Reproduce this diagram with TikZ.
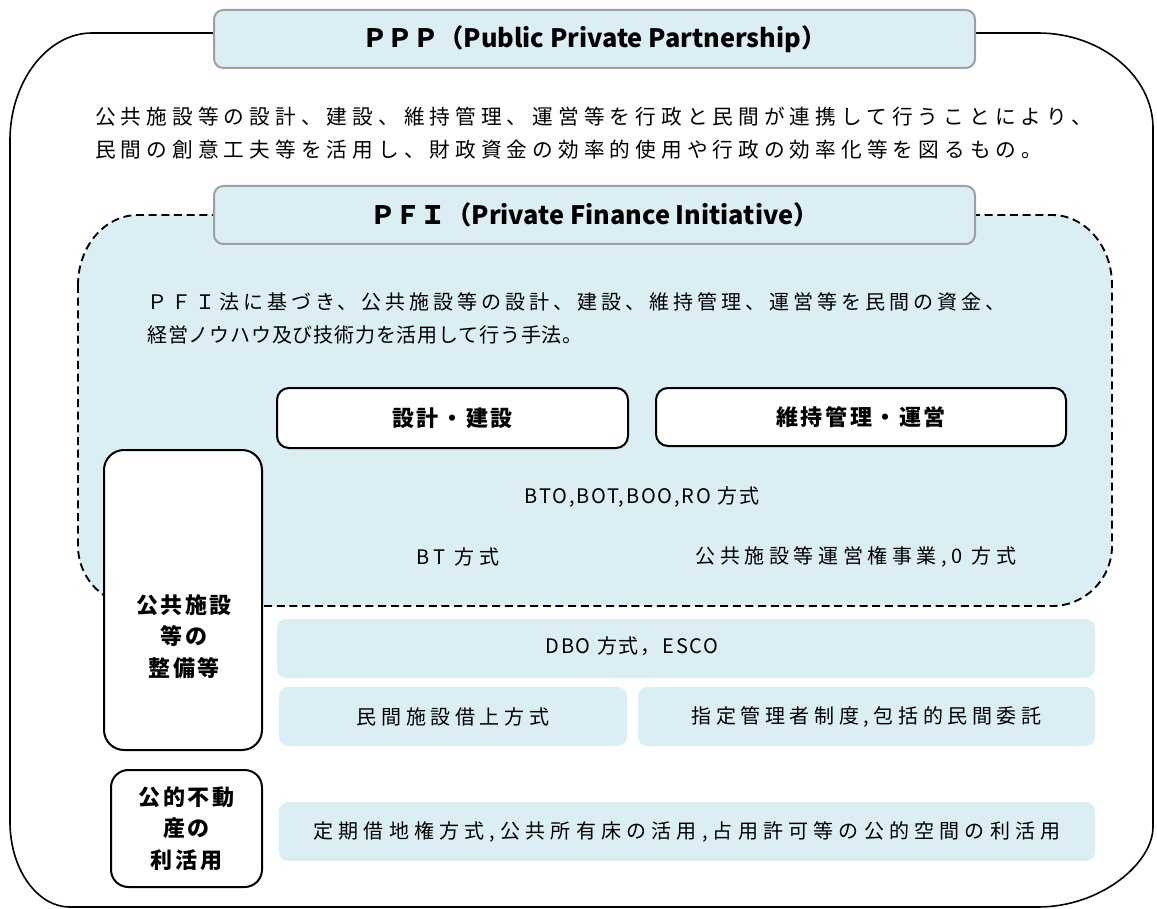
\documentclass[tikz,border=0pt]{standalone}
\usepackage{fontspec}
\setmainfont{Noto Sans CJK JP}
\definecolor{lblue}{HTML}{DAEEF3}
\definecolor{tgray}{HTML}{A0A0A0}
\begin{document}
\begin{tikzpicture}[x=0.75pt,y=-0.75pt,
  titlebox/.style={draw=tgray, fill=lblue, line width=1.5pt, rounded corners=7pt, inner sep=0pt,
    font=\fontsize{19}{22}\selectfont\bfseries},
  whitebox/.style={draw=black, fill=white, line width=1.5pt, rounded corners=9pt, inner sep=0pt,
    font=\fontsize{16.5}{23.6}\selectfont\bfseries\addfontfeature{LetterSpace=12}, align=center},
  bluebox/.style={fill=lblue, rounded corners=7pt, inner sep=0pt,
    font=\fontsize{15}{18}\selectfont\addfontfeature{LetterSpace=23}},
  plain/.style={inner sep=0pt, font=\fontsize{15}{18}\selectfont\addfontfeature{LetterSpace=23}},
  latin/.style={inner sep=0pt, font=\fontsize{15}{18}\selectfont\addfontfeature{LetterSpace=9}},
  desc/.style={anchor=base west, inner sep=0pt, font=\fontsize{15.5}{18}\selectfont\addfontfeature{LetterSpace=24.5}},
  pdesc/.style={anchor=base west, inner sep=0pt, font=\fontsize{15}{18}\selectfont\addfontfeature{LetterSpace=20}},
  pdesctight/.style={anchor=base west, inner sep=0pt, font=\fontsize{15}{18}\selectfont\addfontfeature{LetterSpace=4}},
]
\useasboundingbox (0,0) rectangle (1157,909);
% outer PPP frame
\draw[line width=1.2pt] (10,140) -- (10,822) .. controls (10,869) and (37,907) .. (70,907)
  -- (1038,907) .. controls (1101,907) and (1153,863) .. (1153,827)
  -- (1153,128) .. controls (1153,76) and (1101,33) .. (1038,33)
  -- (92,33) .. controls (47,33) and (10,82) .. (10,140) -- cycle;
\node[titlebox, minimum width=570.75pt, minimum height=43.5pt] (ppp) at (594.5,39) {ＰＰＰ（Public Private Partnership）};
\node[desc] (pppd1) at (95,125) {公共施設等の設計、建設、維持管理、運営等を行政と民間が連携して行うことにより、};
\node[desc] (pppd2) at (95,158) {民間の創意工夫等を活用し、財政資金の効率的使用や行政の効率化等を図るもの。};
% PFI region
\draw[fill=lblue, line width=1.4pt, dash pattern=on 6pt off 3.5pt]
  (78,285) -- (78,546) .. controls (78,579) and (105,606) .. (138,606)
  -- (1052,606) .. controls (1085,606) and (1112,579) .. (1112,546)
  -- (1112,285) .. controls (1112,246) and (1085,215) .. (1052,215)
  -- (138,215) .. controls (105,215) and (78,246) .. (78,285) -- cycle;
\node[titlebox, minimum width=570.75pt, minimum height=43.5pt] (pfi) at (594.5,215) {ＰＦＩ（Private Finance Initiative）};
\node[pdesc] (pfid1) at (147,310) {ＰＦＩ法に基づき、公共施設等の設計、建設、維持管理、運営等を民間の資金、};
\node[pdesctight] (pfid2) at (147,343) {経営ノウハウ及び技術力を活用して行う手法。};
\node[whitebox, minimum width=263.25pt, minimum height=45pt] (sekkei) at (452.5,418) {設計・建設};
\node[whitebox, minimum width=307.5pt, minimum height=43.5pt] (iji) at (861,417) {維持管理・運営};
\node[latin] (bto) at (642,497) {BTO,BOT,BOO,RO 方式};
\node[plain] (bt) at (458,557) {BT 方式};
\node[plain] (unei) at (856,557) {公共施設等運営権事業,0 方式};
% left boxes
\node[whitebox, minimum width=118.5pt, minimum height=225pt, rounded corners=15pt] (kokyo) at (183,600) {};
\node[inner sep=0pt, align=center, font=\fontsize{16.5}{23.6}\selectfont\bfseries\addfontfeature{LetterSpace=12}] (kokyot) at (184,636.5) {公共施設\\等の\\整備等};
\node[whitebox, minimum width=113.25pt, minimum height=87.75pt, rounded corners=13pt] (fudo) at (186.5,828.5) {公的不動\\産の\\利活用};
% lower blue boxes
\node[bluebox, minimum width=613.5pt, minimum height=44.25pt] (dbo) at (686,648.5) {};
\node[latin] (dbot) at (632,646) {DBO 方式，ESCO};
\node[bluebox, minimum width=261pt, minimum height=44.25pt] (minkan) at (453,716.5) {民間施設借上方式};
\node[bluebox, minimum width=342.75pt, minimum height=44.25pt] (shitei) at (866.5,716.5) {指定管理者制度,包括的民間委託};
\node[bluebox, minimum width=612pt, minimum height=44.25pt, font=\fontsize{15}{18}\selectfont\addfontfeature{LetterSpace=26}] (teiki) at (687,831.5) {定期借地権方式,公共所有床の活用,占用許可等の公的空間の利活用};
\end{tikzpicture}
\end{document}
